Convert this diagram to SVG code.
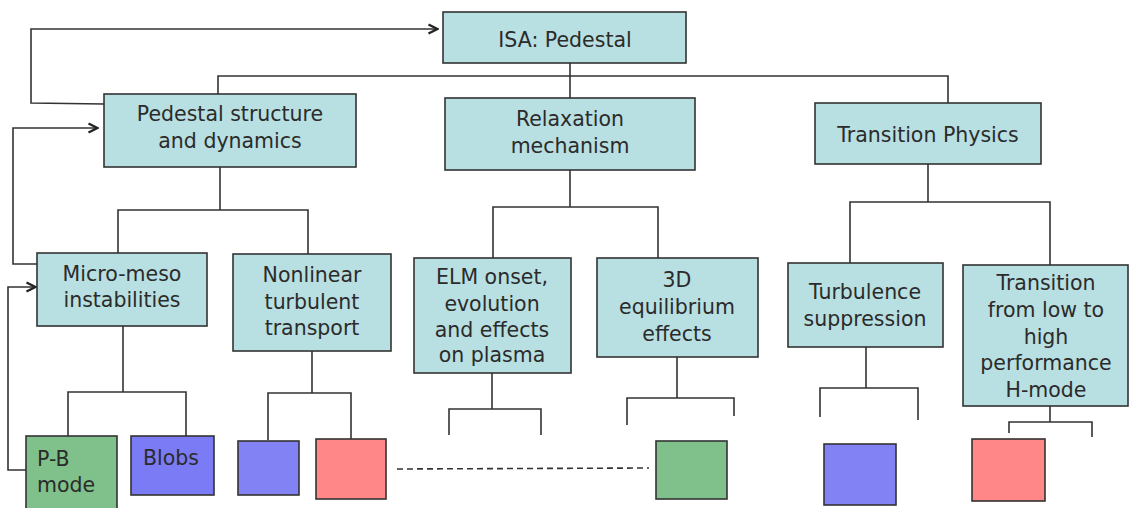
<svg xmlns="http://www.w3.org/2000/svg" width="1130" height="508" viewBox="0 0 1130 508">
  <style>
    .box { fill: #b8dfe1; stroke: #333; stroke-width: 1.6; }
    .leaf { stroke: #333; stroke-width: 1.6; }
    .green { fill: #80c08a; }
    .blue { fill: #8282f4; }
    .blue2 { fill: #7b7bf5; }
    .red { fill: #ff8787; }
    .lbl { font-family: "DejaVu Sans", "Liberation Sans", sans-serif; font-size: 20.5px; fill: #2b2b2b; text-anchor: middle; }
    .lbl-l { font-family: "DejaVu Sans", "Liberation Sans", sans-serif; font-size: 20.5px; fill: #2b2b2b; }
    .wire { fill: none; stroke: #333; stroke-width: 1.6; }
    .dash { fill: none; stroke: #333; stroke-width: 1.6; stroke-dasharray: 6 4; }
  </style>
  <defs>
    <marker id="chev" viewBox="0 0 12 12" refX="11" refY="6" markerWidth="12" markerHeight="12" markerUnits="userSpaceOnUse" orient="auto">
      <path d="M1.5,1.5 L10.5,6 L1.5,10.5" fill="none" stroke="#222" stroke-width="2.3"/>
    </marker>
  </defs>
  <rect width="1130" height="508" fill="#fff"/>

  <g id="connectors">
    <!-- root to first-level topics -->
    <path class="wire" d="M570,63 V98"/>
    <path class="wire" d="M218,94 V76 H948 V103"/>
    <!-- Pedestal structure children -->
    <path class="wire" d="M220,167 V210"/>
    <path class="wire" d="M118,253 V210 H308 V254"/>
    <!-- Relaxation children -->
    <path class="wire" d="M570,170 V207"/>
    <path class="wire" d="M493,258 V207 H658 V258"/>
    <!-- Transition Physics children -->
    <path class="wire" d="M928,164 V202"/>
    <path class="wire" d="M850,263 V202 H1050 V265"/>
    <!-- leaf brackets -->
    <path class="wire" d="M123,326 V392"/>
    <path class="wire" d="M68,436 V392 H186 V436"/>
    <path class="wire" d="M312,351 V393"/>
    <path class="wire" d="M268,440 V393 H351 V440"/>
    <path class="wire" d="M492,373 V409"/>
    <path class="wire" d="M449,435 V409 H541 V435"/>
    <path class="wire" d="M677,357 V398"/>
    <path class="wire" d="M627,425 V398 H734 V416"/>
    <path class="wire" d="M866,347 V388"/>
    <path class="wire" d="M820,417 V388 H918 V420"/>
    <path class="wire" d="M1050,406 V422"/>
    <path class="wire" d="M1009,433 V422 H1092 V437"/>
    <!-- feedback loops -->
    <path class="wire" d="M104,104 L31,103 V29 H438" marker-end="url(#chev)"/>
    <path class="wire" d="M37,264 H13 V128 H98" marker-end="url(#chev)"/>
    <path class="wire" d="M26,470 H8 V287 H36" marker-end="url(#chev)"/>
    <!-- dashed link -->
    <path class="dash" d="M397,469 L649,468"/>
  </g>

  <g id="isa-pedestal">
    <rect class="box" x="443" y="12" width="243" height="51"/>
    <text class="lbl" x="565" y="47">ISA: Pedestal</text>
  </g>

  <g id="pedestal-structure">
    <rect class="box" x="104" y="94" width="252" height="73"/>
    <text class="lbl" x="230" y="121">Pedestal structure</text>
    <text class="lbl" x="230" y="148">and dynamics</text>
  </g>

  <g id="relaxation">
    <rect class="box" x="445" y="98" width="250" height="72"/>
    <text class="lbl" x="570" y="126">Relaxation</text>
    <text class="lbl" x="570" y="153">mechanism</text>
  </g>

  <g id="transition-physics">
    <rect class="box" x="815" y="103" width="226" height="61"/>
    <text class="lbl" x="928" y="142">Transition Physics</text>
  </g>

  <g id="micro-meso">
    <rect class="box" x="37" y="253" width="170" height="73"/>
    <text class="lbl" x="122" y="281">Micro-meso</text>
    <text class="lbl" x="122" y="307">instabilities</text>
  </g>

  <g id="nonlinear-transport">
    <rect class="box" x="233" y="254" width="158" height="97"/>
    <text class="lbl" x="312" y="282">Nonlinear</text>
    <text class="lbl" x="312" y="309">turbulent</text>
    <text class="lbl" x="312" y="335">transport</text>
  </g>

  <g id="elm">
    <rect class="box" x="414" y="258" width="157" height="115"/>
    <text class="lbl" x="492" y="284">ELM onset,</text>
    <text class="lbl" x="492" y="311">evolution</text>
    <text class="lbl" x="492" y="337">and effects</text>
    <text class="lbl" x="492" y="362">on plasma</text>
  </g>

  <g id="equilibrium-3d">
    <rect class="box" x="597" y="258" width="161" height="99"/>
    <text class="lbl" x="677" y="287">3D</text>
    <text class="lbl" x="677" y="314">equilibrium</text>
    <text class="lbl" x="677" y="341">effects</text>
  </g>

  <g id="turbulence-suppression">
    <rect class="box" x="788" y="263" width="155" height="84"/>
    <text class="lbl" x="865" y="299">Turbulence</text>
    <text class="lbl" x="865" y="326">suppression</text>
  </g>

  <g id="l-h-transition">
    <rect class="box" x="963" y="265" width="165" height="141"/>
    <text class="lbl" x="1046" y="290">Transition</text>
    <text class="lbl" x="1046" y="317">from low to</text>
    <text class="lbl" x="1046" y="344">high</text>
    <text class="lbl" x="1046" y="370">performance</text>
    <text class="lbl" x="1046" y="397">H-mode</text>
  </g>

  <g id="pb-mode">
    <rect class="leaf green" x="26" y="436" width="91" height="76"/>
    <text class="lbl-l" x="37" y="466">P-B</text>
    <text class="lbl-l" x="37" y="492">mode</text>
  </g>

  <g id="blobs">
    <rect class="leaf blue2" x="131" y="436" width="83" height="59"/>
    <text class="lbl-l" x="143" y="465">Blobs</text>
  </g>

  <g id="leaf-blue-1">
    <rect class="leaf blue" x="238" y="441" width="61" height="54"/>
  </g>
  <g id="leaf-red-1">
    <rect class="leaf red" x="316" y="439" width="70" height="60"/>
  </g>
  <g id="leaf-green-1">
    <rect class="leaf green" x="656" y="441" width="71" height="58"/>
  </g>
  <g id="leaf-blue-2">
    <rect class="leaf blue" x="824" y="444" width="72" height="61"/>
  </g>
  <g id="leaf-red-2">
    <rect class="leaf red" x="972" y="439" width="73" height="62"/>
  </g>
</svg>
